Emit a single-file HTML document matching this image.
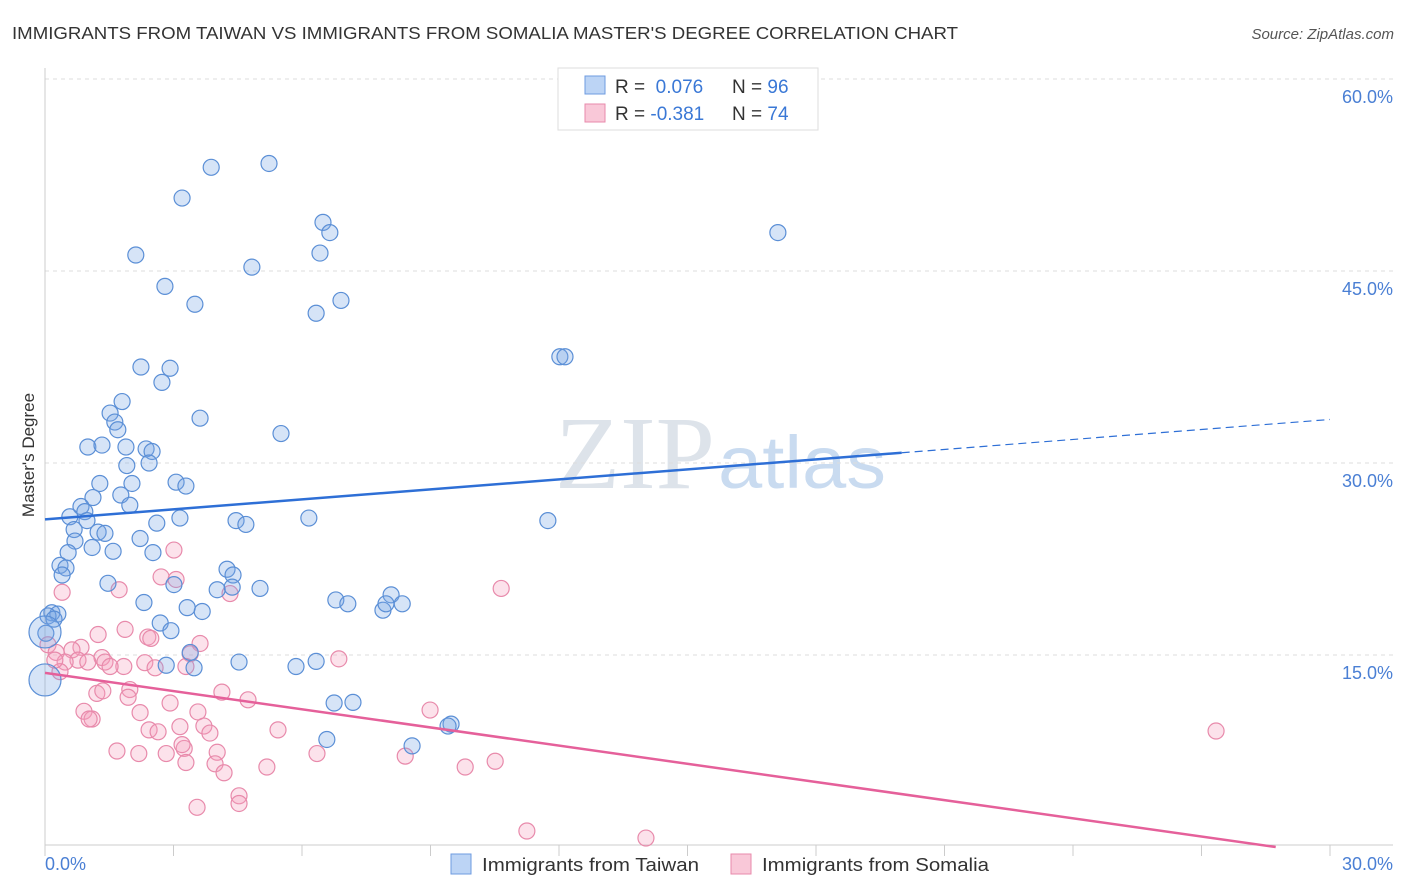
<!DOCTYPE html>
<html><head><meta charset="utf-8"><style>
body{margin:0;background:#fff;font-family:"Liberation Sans",sans-serif;}
svg{display:block}
</style></head><body>
<svg id="chart" width="1406" height="892">
<text x="12" y="39" font-size="17.5" fill="#333" textLength="946" lengthAdjust="spacingAndGlyphs">IMMIGRANTS FROM TAIWAN VS IMMIGRANTS FROM SOMALIA MASTER'S DEGREE CORRELATION CHART</text>
<text x="1394" y="39" font-size="15" fill="#555" font-style="italic" text-anchor="end">Source: ZipAtlas.com</text>
<text x="555" y="488" font-size="104" fill="#dde3ea" textLength="160" lengthAdjust="spacingAndGlyphs" font-family="Liberation Serif,serif">ZIP</text>
<text x="718" y="488" font-size="74" fill="#c9dbf0" textLength="168" lengthAdjust="spacingAndGlyphs">atlas</text>
<text transform="translate(34,455) rotate(-90)" font-size="17" fill="#333" text-anchor="middle">Master's Degree</text>
<g id="grid"></g><g id="marks"></g><g id="lines"></g>
<g>
<rect x="558" y="68" width="260" height="62" fill="#fff" stroke="#ddd"/>
<rect x="585" y="76" width="20" height="18" fill="#bcd4f5" stroke="#6e9be0"/>
<rect x="585" y="104" width="20" height="18" fill="#f9c8d8" stroke="#e88aab"/>
<text x="615" y="93" font-size="19" fill="#333">R = <tspan fill="#3a78d6">&#160;0.076</tspan><tspan x="732">N = </tspan><tspan fill="#3a78d6">96</tspan></text>
<text x="615" y="120" font-size="19" fill="#333">R = <tspan fill="#3a78d6">-0.381</tspan><tspan x="732">N = </tspan><tspan fill="#3a78d6">74</tspan></text>
</g>
<g>
<rect x="451" y="854" width="20" height="20" fill="#bcd4f5" stroke="#6e9be0"/>
<text x="482" y="871" font-size="18" fill="#333" textLength="217" lengthAdjust="spacingAndGlyphs">Immigrants from Taiwan</text>
<rect x="731" y="854" width="20" height="20" fill="#f9c8d8" stroke="#e88aab"/>
<text x="762" y="871" font-size="18" fill="#333" textLength="227" lengthAdjust="spacingAndGlyphs">Immigrants from Somalia</text>
</g>
</svg>
<script>
const yTicks=[15,30,45,60];
const xTickLabels=["0.0%","30.0%"];
const taiwanX=[3.88,5.23,3.20,6.49,6.65,17.11,2.12,4.83,6.42,2.80,3.50,6.33,6.91,12.02,12.14,2.24,2.92,2.73,1.80,1.52,3.62,1.63,1.70,1.00,1.33,2.36,1.89,2.50,5.51,1.91,2.43,1.28,3.06,3.29,2.03,1.12,1.77,1.98,0.84,0.93,0.58,0.98,3.15,2.61,4.46,4.69,6.16,11.74,0.68,1.24,1.40,2.22,0.70,1.10,1.59,2.52,0.54,0.35,0.49,0.40,4.25,4.39,1.47,3.01,4.02,4.37,5.02,2.31,6.79,7.07,3.32,3.67,7.89,8.08,7.96,8.34,0.16,0.30,0.07,0.21,2.69,2.94,0.02,3.39,2.83,3.48,4.53,5.86,6.33,6.75,7.19,9.48,9.41,8.57,6.58,0,0];
const taiwanY=[53.1,53.4,50.7,48.8,48.0,48.0,46.25,45.3,46.4,43.8,42.4,41.7,42.7,38.3,38.3,37.5,37.4,36.3,34.8,33.9,33.5,33.2,32.6,31.25,31.4,31.1,31.25,30.9,32.3,29.8,30.0,28.4,28.5,28.2,28.4,27.3,27.5,26.7,26.6,26.2,25.8,25.5,25.7,25.3,25.5,25.2,25.7,25.5,24.8,24.6,24.5,24.1,23.9,23.4,23.1,23.0,23.0,22.0,21.8,21.25,21.7,21.25,20.6,20.5,20.1,20.3,20.2,19.1,19.3,19.0,18.7,18.4,18.5,19.7,19.0,19.0,18.3,18.2,18.05,17.8,17.5,16.9,16.7,15.2,14.2,14.0,14.45,14.1,14.5,11.25,11.3,9.6,9.45,7.9,8.4,13.05,16.8];
const somaliaX=[3.01,2.71,3.06,10.65,4.32,0.40,1.73,1.24,1.87,2.40,2.47,3.62,0.07,0.26,0.84,0.63,0.77,0.47,1.33,1.40,1.84,1.52,1.00,2.33,2.57,3.39,6.86,3.29,0.35,1.21,1.98,1.94,1.35,4.13,4.74,2.92,0.91,1.10,1.03,2.22,3.57,3.71,3.15,2.43,2.64,3.85,5.44,8.99,1.68,2.19,2.83,3.25,3.20,4.02,3.29,3.97,4.18,5.18,6.35,8.41,9.81,10.51,4.53,4.53,3.55,11.25,14.03,27.34,0.23];
const somaliaY=[23.2,21.1,20.9,20.2,19.8,19.9,20.1,16.6,17.0,16.4,16.3,15.9,15.8,15.2,15.6,15.4,14.6,14.45,14.8,14.45,14.1,14.1,14.45,14.4,14.0,15.1,14.7,14.1,13.7,12.0,12.3,11.7,12.2,12.1,11.5,11.25,10.6,10.0,10.0,10.5,10.55,9.45,9.4,9.15,9.0,8.9,9.15,10.7,7.5,7.3,7.3,7.7,8.0,7.4,6.6,6.5,5.8,6.25,7.3,7.1,6.25,6.7,4.0,3.4,3.1,1.25,0.7,9.06,14.6];
const taiwanTrend=[25.6,33.4];
const somaliaTrend=[13.6,-0.6];
const NS="http://www.w3.org/2000/svg";
const X0=45,X1=1330,Y0=847,Y60=79;
const sx=v=>X0+v/30*(X1-X0);
const sy=v=>Y0-v/60*(Y0-Y60);
function mk(t,a,p){const e=document.createElementNS(NS,t);for(const k in a)e.setAttribute(k,a[k]);p.appendChild(e);return e;}
const grid=document.getElementById('grid');
yTicks.forEach(t=>{
 const l=mk('line',{x1:45,x2:1393,y1:sy(t),y2:sy(t),stroke:'#ddd','stroke-dasharray':'4,4'},grid);
 
 
 const tx=mk('text',{x:1393,y:sy(t)+24,'font-size':18,fill:'#4a7fd4','text-anchor':'end'},grid);
 tx.textContent=t.toFixed(1)+'%';
 
 
});
const ax=mk('line',{x1:45,x2:45,y1:68,y2:845,stroke:'#ccc'},grid);


const bx=mk('line',{x1:45,x2:1393,y1:845,y2:845,stroke:'#ccc'},grid);


for(let i=0;i<=10;i++){const t=mk('line',{x1:sx(i*3),x2:sx(i*3),y1:845,y2:856,stroke:'#ccc'},grid);
 
 }
[[0,'start',45],[30,'end',1393]].forEach((d,i)=>{const t=mk('text',{x:d[2],y:870,'font-size':18,fill:'#4a7fd4','text-anchor':d[1]},grid);t.textContent=xTickLabels[i];
 
 });
const marks=document.getElementById('marks');
somaliaX.forEach((x,i)=>{const c=mk('circle',{cx:sx(x),cy:sy(somaliaY[i]),r:8,fill:'rgba(245,160,190,0.3)',stroke:'#e88aab','stroke-width':1.2},marks);
 
 });
taiwanX.forEach((x,i)=>{const big=i>=taiwanX.length-2;const c=mk('circle',{cx:sx(x),cy:sy(taiwanY[i]),r:big?16:8,fill:'rgba(120,165,230,0.3)',stroke:'#5b8fd6','stroke-width':1.2},marks);
 
 });
const lines=document.getElementById('lines');
const ty=x=>taiwanTrend[0]+(taiwanTrend[1]-taiwanTrend[0])*x/30;
const l1=mk('line',{x1:sx(0),y1:sy(ty(0)),x2:sx(20),y2:sy(ty(20)),stroke:'#2e6fd6','stroke-width':2.5},lines);


const l2=mk('line',{x1:sx(20),y1:sy(ty(20)),x2:sx(30),y2:sy(ty(30)),stroke:'#2e6fd6','stroke-width':1.2,'stroke-dasharray':'8,5'},lines);


const py=x=>somaliaTrend[0]+(somaliaTrend[1]-somaliaTrend[0])*x/30;
const xe=somaliaTrend[0]/(somaliaTrend[0]-somaliaTrend[1])*30;
const l3=mk('line',{x1:sx(0),y1:sy(py(0)),x2:sx(xe),y2:sy(0),stroke:'#e5609a','stroke-width':2.5},lines);


</script>
</body></html>
